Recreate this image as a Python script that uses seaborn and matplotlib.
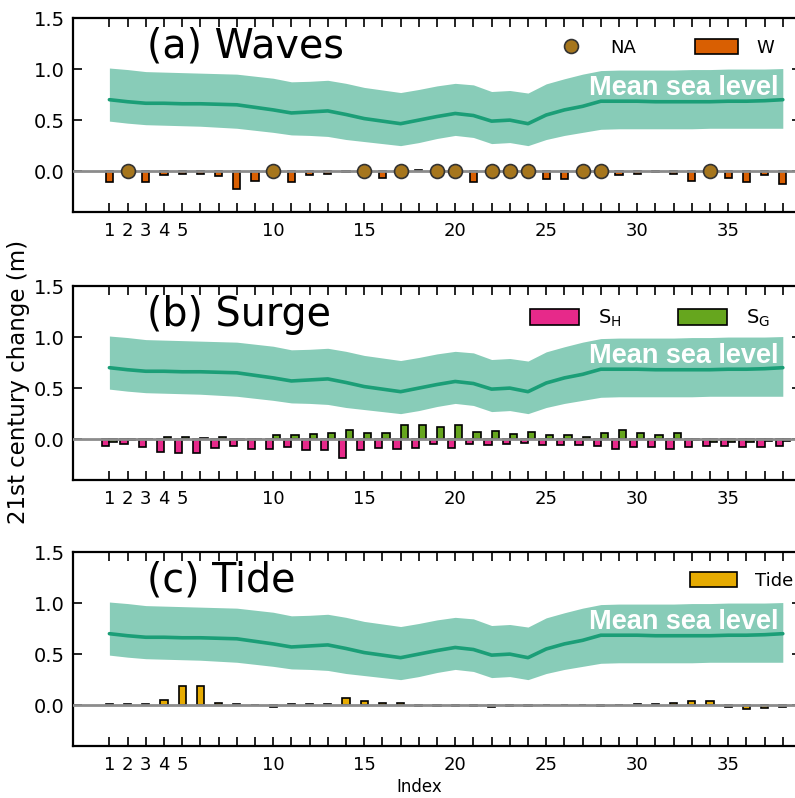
import numpy as np
import pandas as pd
import matplotlib
matplotlib.use("Agg")
import matplotlib.pyplot as plt
import seaborn as sns
from matplotlib.patches import Patch
from matplotlib.lines import Line2D

nan = np.nan
index = list(range(1, 39))

waves_W = [-0.11, nan, -0.11, -0.035, -0.03, -0.03, -0.05, -0.17, -0.10, nan,
           -0.11, -0.04, -0.03, -0.01, nan, -0.065, nan, 0.01, nan, nan,
           -0.11, nan, nan, nan, -0.08, -0.075, nan, nan, -0.035, -0.03,
           -0.005, -0.025, -0.095, nan, -0.07, -0.11, -0.035, -0.13]

surge_SH = [-0.069, -0.049, -0.075, -0.124, -0.134, -0.134, -0.085, -0.069, -0.098, -0.098,
            -0.075, -0.108, -0.108, -0.18, -0.108, -0.085, -0.098, -0.085, -0.052, -0.082,
            -0.052, -0.059, -0.052, -0.033, -0.059, -0.059, -0.059, -0.069, -0.092, -0.075,
            -0.075, -0.098, -0.075, -0.069, -0.069, -0.075, -0.075, -0.069]

surge_SG = [-0.026, -0.01, 0.0, 0.023, 0.023, 0.015, 0.023, -0.01, 0.0, 0.045,
            0.036, 0.055, 0.062, 0.088, 0.062, 0.062, 0.134, 0.134, 0.121, 0.137,
            0.069, 0.078, 0.046, 0.069, 0.039, 0.039, 0.023, 0.056, 0.088, 0.065,
            0.042, 0.056, -0.01, -0.03, -0.03, -0.026, -0.02, -0.02]

tide = [0.016, 0.013, 0.016, 0.05, 0.19, 0.19, 0.026, 0.016, 0.0, -0.016,
        0.013, 0.016, 0.013, 0.07, 0.036, 0.02, 0.02, -0.013, -0.01, -0.01,
        -0.01, -0.02, -0.01, -0.01, 0.0, 0.0, 0.0, -0.01, 0.0, 0.016,
        0.01, 0.02, 0.036, 0.036, -0.016, -0.04, -0.03, -0.016]

msl_mean = [0.70, 0.68, 0.665, 0.665, 0.66, 0.66, 0.655, 0.65, 0.625, 0.60,
            0.57, 0.58, 0.59, 0.555, 0.515, 0.49, 0.465, 0.50, 0.535, 0.565,
            0.545, 0.49, 0.50, 0.465, 0.55, 0.60, 0.635, 0.685, 0.685, 0.685,
            0.68, 0.68, 0.68, 0.68, 0.685, 0.685, 0.69, 0.70]
msl_upper = [1.01, 0.995, 0.975, 0.97, 0.965, 0.96, 0.955, 0.95, 0.93, 0.91,
             0.875, 0.88, 0.89, 0.86, 0.82, 0.795, 0.77, 0.80, 0.835, 0.86,
             0.845, 0.78, 0.79, 0.765, 0.855, 0.905, 0.95, 0.985, 0.99, 0.99,
             0.99, 0.99, 0.995, 0.995, 1.0, 1.0, 1.0, 1.005]
msl_lower = [0.49, 0.47, 0.455, 0.45, 0.445, 0.44, 0.43, 0.42, 0.40, 0.38,
             0.355, 0.35, 0.34, 0.31, 0.29, 0.27, 0.25, 0.28, 0.32, 0.35,
             0.33, 0.27, 0.28, 0.25, 0.31, 0.35, 0.38, 0.41, 0.415, 0.415,
             0.415, 0.415, 0.415, 0.42, 0.42, 0.42, 0.42, 0.42]

tick_labels = {1: "1", 2: "2", 3: "3", 4: "4", 5: "5", 10: "10", 15: "15",
               20: "20", 25: "25", 30: "30", 35: "35"}
titles = ["(a) Waves", "(b) Surge", "(c) Tide"]

# colours
C_MSL = "#1b9e77"
C_W = "#d95f02"
C_NA = "#a6761d"
C_SH = "#e7298a"
C_SG = "#66a61e"
C_TIDE = "#e6ab02"

sns.set_style("ticks")
plt.rcParams["font.family"] = ["DejaVu Sans"]
plt.rcParams.update({
    "axes.edgecolor": "black",
    "text.color": "black", "axes.labelcolor": "black",
    "xtick.color": "black", "ytick.color": "black",
})

fig = plt.figure(figsize=(7.95, 7.98), dpi=100)
left, width, height = 73 / 795, 728 / 795, 194 / 798
bottoms = [1 - 212 / 798, 1 - 480 / 798, 1 - 746 / 798]
axes = [fig.add_axes([left, b, width, height]) for b in bottoms]

df = pd.DataFrame({"idx": index, "W": waves_W, "SH": surge_SH, "SG": surge_SG,
                   "Tide": tide, "mean": msl_mean, "upper": msl_upper,
                   "lower": msl_lower})

for ax, title in zip(axes, titles):
    ax.fill_between(df["idx"], df["lower"], df["upper"], color=C_MSL,
                    alpha=0.52, linewidth=0, zorder=1)
    sns.lineplot(data=df, x="idx", y="mean", color=C_MSL, lw=2.6, ax=ax,
                 zorder=2)
    ax.axhline(0, color="#8c8c8c", lw=2, zorder=3.5)
    ax.text(37.75, 0.81, "Mean sea level", color="white", fontsize=19.5,
            fontweight="bold", family="Liberation Sans", ha="right",
            va="center", zorder=5)
    ax.text(3.05, 1.11, title, fontsize=28.5, ha="left", va="baseline",
            color="black", zorder=5)

# (a) Waves
ax = axes[0]
dW = df.dropna(subset=["W"])
sns.barplot(data=dW, x="idx", y="W", native_scale=True, width=0.4,
            color=C_W, saturation=1, edgecolor="black", linewidth=1.2,
            errorbar=None, ax=ax, zorder=3)
dNA = df[df["W"].isna()].assign(zero=0.0)
sns.scatterplot(data=dNA, x="idx", y="zero", s=100, color=C_NA,
                edgecolor="#333333", linewidth=1.2, ax=ax, zorder=6)
h_a = [Line2D([], [], marker="o", ls="none", markersize=10,
              markerfacecolor=C_NA, markeredgecolor="#333333", mew=1.2),
       Patch(facecolor=C_W, edgecolor="black", linewidth=1.2)]
ax.legend(h_a, ["NA", "W"], ncol=2, loc="center left",
          bbox_to_anchor=(0.654, 0.845), frameon=False, fontsize=13,
          handlelength=2.4, handleheight=0.9, handletextpad=1.0,
          columnspacing=3.25, borderaxespad=0, borderpad=0)

# (b) Surge
ax = axes[1]
dS = pd.concat([
    pd.DataFrame({"idx": index, "value": surge_SH, "comp": "SH"}),
    pd.DataFrame({"idx": index, "value": surge_SG, "comp": "SG"}),
])
sns.barplot(data=dS, x="idx", y="value", hue="comp", hue_order=["SH", "SG"],
            palette={"SH": C_SH, "SG": C_SG}, native_scale=True, width=0.8,
            saturation=1, edgecolor="black", linewidth=1.2, errorbar=None,
            legend=False, ax=ax, zorder=3)
h_b = [Patch(facecolor=C_SH, edgecolor="black", linewidth=1.2),
       Patch(facecolor=C_SG, edgecolor="black", linewidth=1.2)]
ax.legend(h_b, [r"S$_\mathregular{H}$", r"S$_\mathregular{G}$"], ncol=2,
          loc="center left", bbox_to_anchor=(0.628, 0.835), frameon=False,
          fontsize=14, handlelength=2.5, handleheight=0.9,
          handletextpad=1.0, columnspacing=2.9, borderaxespad=0, borderpad=0)

# (c) Tide
ax = axes[2]
sns.barplot(data=df, x="idx", y="Tide", native_scale=True, width=0.4,
            color=C_TIDE, saturation=1, edgecolor="black", linewidth=1.2,
            errorbar=None, ax=ax, zorder=3)
h_c = [Patch(facecolor=C_TIDE, edgecolor="black", linewidth=1.2)]
ax.legend(h_c, ["Tide"], loc="center left", bbox_to_anchor=(0.848, 0.85),
          frameon=False, fontsize=13, handlelength=2.6, handleheight=0.9,
          handletextpad=1.0, borderaxespad=0, borderpad=0)

for ax in axes:
    ax.set_xlim(-1, 39)
    ax.set_ylim(-0.4, 1.5)
    ax.set_xticks(index)
    ax.set_xticklabels([tick_labels.get(i, "") for i in index])
    ax.set_yticks([0.0, 0.5, 1.0, 1.5])
    ax.set_yticklabels(["0.0", "0.5", "1.0", "1.5"])
    ax.tick_params(axis="both", direction="in", top=True, right=True,
                   length=6.5, width=1.2, color="black")
    ax.tick_params(axis="x", labelsize=13, pad=7, labelcolor="black")
    ax.tick_params(axis="y", labelsize=14, pad=6, labelcolor="black")
    for sp in ax.spines.values():
        sp.set_visible(True)
        sp.set_color("black")
        sp.set_linewidth(1.6)
    ax.set_xlabel("")
    ax.set_ylabel("")

fig.text(419 / 795, 1 - 787 / 798, "Index", ha="center", va="center",
         fontsize=12, color="black")
fig.text(0.023, 0.521, "21st century change (m)", rotation=90, va="center",
         ha="center", fontsize=16.5, color="black")

fig.savefig("out.png", dpi=100)
